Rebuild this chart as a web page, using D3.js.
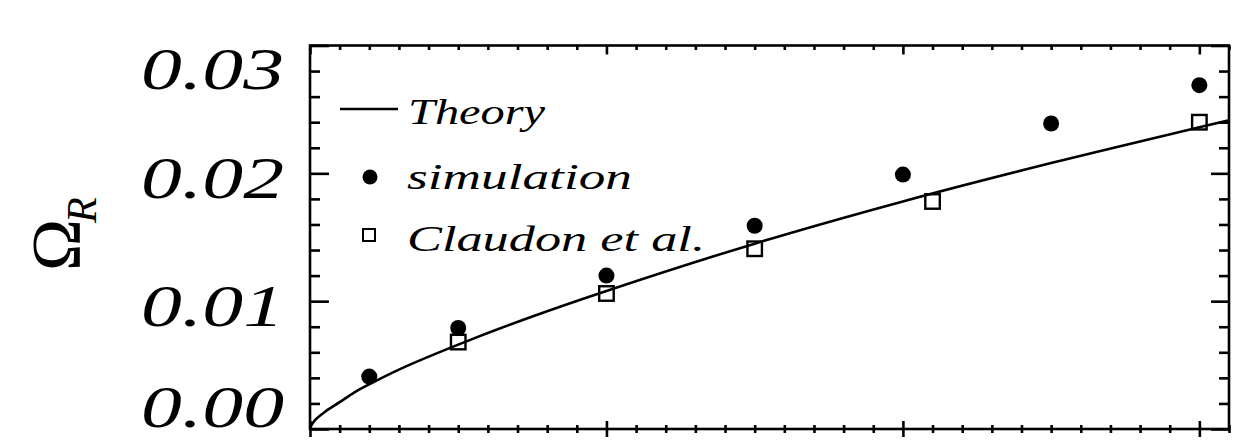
<!DOCTYPE html>
<html><head><meta charset="utf-8">
<script src="https://cdn.jsdelivr.net/npm/d3@7"></script>
<style>body{margin:0;background:#fff}svg{display:block}</style>
</head><body>
<svg id="c" width="1256" height="441"></svg>
<script>
// ---- data ----
const theoryX = [0, 0.005, 0.017, 0.05, 0.1, 0.15, 0.2, 0.3, 0.5, 0.75, 1.0, 1.5, 2.0, 2.5, 3.0, 3.1];
const theoryY = [0, 0.0003, 0.0007, 0.00133, 0.0021, 0.00287, 0.0035, 0.00465, 0.0066, 0.0088, 0.0108, 0.0145, 0.0178, 0.0208, 0.0236, 0.02415];
const simX = [0.2, 0.5, 1.0, 1.5, 2.0, 2.5, 3.0];
const simY = [0.0041, 0.0079, 0.0120, 0.0159, 0.0199, 0.0239, 0.0269];
const claX = [0.5, 1.0, 1.5, 2.1, 3.0];
const claY = [0.0068, 0.0106, 0.0141, 0.0178, 0.0240];
const yTickValues = [0, 0.01, 0.02, 0.03];
const yTickLabels = ["0.00", "0.01", "0.02", "0.03"];
const xMajorValues = [0, 1, 2, 3];
const legendLabels = ["Theory", "simulation", "Claudon et al."];

// ---- layout ----
const L = 310, R = 1229, T = 45.5, B = 429;
const svg = d3.select("#c");
const x = d3.scaleLinear().domain([0, 3.1]).range([L, R]);
const y = d3.scaleLinear().domain([0, 0.03]).range([B, T]);
const SW = 2.6;
const serif = "'Liberation Serif', 'Times New Roman', serif";

const xMinor = x.ticks(31).filter(v => !xMajorValues.some(m => Math.abs(m - v) < 1e-9));
const yMinor = d3.range(0, 16).map(i => i * 0.002).filter(v => !yTickValues.some(m => Math.abs(m - v) < 1e-9));

function styleAxis(g) {
  g.select(".domain").remove();
  g.selectAll("text").remove();
  g.selectAll("line").attr("stroke", "#000").attr("stroke-width", SW);
}
// bottom axis: ticks crossing the line
svg.append("g").attr("transform", `translate(0,${B})`)
  .call(d3.axisBottom(x).tickValues(xMinor).tickSize(4).tickFormat(""))
  .call(styleAxis).selectAll("line").attr("y1", -4);
svg.append("g").attr("transform", `translate(0,${B})`)
  .call(d3.axisBottom(x).tickValues(xMajorValues).tickSize(8).tickFormat(""))
  .call(styleAxis).selectAll("line").attr("y1", -8);
// top axis: inward
svg.append("g").attr("transform", `translate(0,${T})`)
  .call(d3.axisTop(x).tickValues(xMinor).tickSize(-4.5).tickFormat("")).call(styleAxis);
svg.append("g").attr("transform", `translate(0,${T})`)
  .call(d3.axisTop(x).tickValues(xMajorValues).tickSize(-9).tickFormat("")).call(styleAxis);
// left axis: inward
svg.append("g").attr("transform", `translate(${L},0)`)
  .call(d3.axisLeft(y).tickValues(yMinor).tickSize(-10).tickFormat("")).call(styleAxis);
svg.append("g").attr("transform", `translate(${L},0)`)
  .call(d3.axisLeft(y).tickValues(yTickValues).tickSize(-19).tickFormat("")).call(styleAxis);
// right axis: inward
svg.append("g").attr("transform", `translate(${R},0)`)
  .call(d3.axisRight(y).tickValues(yMinor).tickSize(-10).tickFormat("")).call(styleAxis);
svg.append("g").attr("transform", `translate(${R},0)`)
  .call(d3.axisRight(y).tickValues(yTickValues).tickSize(-18).tickFormat("")).call(styleAxis);

// frame
svg.append("rect").attr("x", L).attr("y", T).attr("width", R - L).attr("height", B - T)
  .attr("fill", "none").attr("stroke", "#000").attr("stroke-width", SW);

// y tick labels (kept inside the axis span)
svg.append("g").selectAll("text").data(yTickValues).join("text")
  .attr("x", 141)
  .attr("y", v => Math.max(T + 43, Math.min(B - 2, y(v) + 25)))
  .attr("font-family", serif).attr("font-style", "italic").attr("font-size", 60)
  .attr("textLength", 143).attr("lengthAdjust", "spacingAndGlyphs")
  .text((v, i) => yTickLabels[i]);

// y axis title  Ω_R
const yt = svg.append("text").attr("transform", "translate(80,271) rotate(-90)")
  .attr("font-family", serif).attr("font-size", 70);
yt.append("tspan").text("\u03A9");
yt.append("tspan").attr("font-style", "italic").attr("font-size", 42).attr("dx", -4).attr("dy", 16).text("R");

// theory line
const pts = theoryX.map((v, i) => [v, theoryY[i]]);
svg.append("path").datum(pts)
  .attr("d", d3.line().x(d => x(d[0])).y(d => y(d[1])).curve(d3.curveCatmullRom.alpha(0.5)))
  .attr("fill", "none").attr("stroke", "#000").attr("stroke-width", 2.6);

// simulation dots
svg.append("g").selectAll("circle").data(simX).join("circle")
  .attr("cx", d => x(d)).attr("cy", (d, i) => y(simY[i])).attr("r", 8).attr("fill", "#000");

// Claudon squares
const S = 14.5;
svg.append("g").selectAll("rect").data(claX).join("rect")
  .attr("x", d => x(d) - S / 2).attr("y", (d, i) => y(claY[i]) - S / 2)
  .attr("width", S).attr("height", S)
  .attr("fill", "none").attr("stroke", "#000").attr("stroke-width", 2.4);

// legend
const lg = svg.append("g");
lg.append("line").attr("x1", 340).attr("x2", 398).attr("y1", 109).attr("y2", 109)
  .attr("stroke", "#000").attr("stroke-width", 2.4);
lg.append("circle").attr("cx", 370).attr("cy", 177).attr("r", 7.5).attr("fill", "#000");
lg.append("rect").attr("x", 363).attr("y", 229).attr("width", 12).attr("height", 12)
  .attr("fill", "none").attr("stroke", "#000").attr("stroke-width", 2);
const legY = [124, 189, 251];
const legX = [408, 407, 407];
const legW = [137, 225, 298];
lg.selectAll("text").data(legendLabels).join("text")
  .attr("x", (d, i) => legX[i]).attr("y", (d, i) => legY[i])
  .attr("font-family", serif).attr("font-style", "italic").attr("font-size", 35)
  .attr("textLength", (d, i) => legW[i]).attr("lengthAdjust", "spacingAndGlyphs")
  .text(d => d);
</script>
</body></html>
